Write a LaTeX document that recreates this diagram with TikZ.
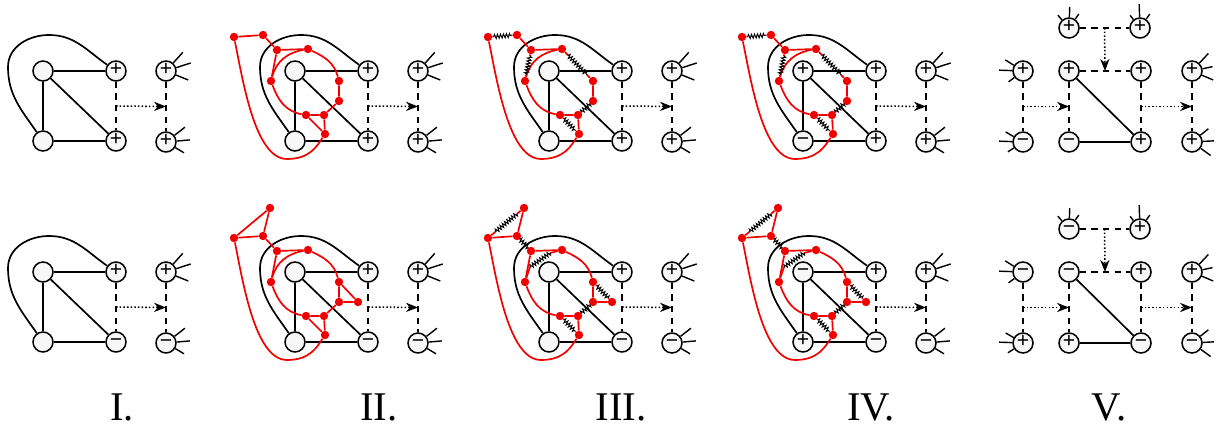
\documentclass[tikz,border=0pt]{standalone}
\usepackage{fontspec}
\newfontfamily\signfont{Liberation Sans}
\newfontfamily\numfont{Liberation Serif}
\usetikzlibrary{calc, arrows.meta, decorations.pathmorphing}
\definecolor{fillGray}{gray}{0.97}
\definecolor{dimerRed}{rgb}{0.95,0,0}

\tikzset{
  vtx/.style={circle, draw, fill=fillGray, line width=1.1pt, minimum size=5mm, inner sep=0pt,
    font=\signfont\fontsize{15}{15}\selectfont, text height=0.68em, text depth=0pt},
  blk/.style={line width=1.2pt},
  dashedge/.style={line width=1.1pt, dash pattern=on 1.6mm off 1.3mm},
  dotarrow/.style={line width=1.1pt, dash pattern=on 1.1pt off 1.5pt, -{Stealth[length=3mm, width=2.3mm]}},
  whisker/.style={line width=1pt},
  rdot/.style={circle, fill=dimerRed, minimum size=2.1mm, inner sep=0pt},
  redge/.style={dimerRed, line width=1.2pt},
  zz/.style={line width=0.7pt, decorate, decoration={zigzag, amplitude=0.5mm, segment length=0.75mm}},
  numlabel/.style={font=\numfont\fontsize{29}{31}\selectfont, anchor=base, inner sep=0pt}
}

% short legs on the outer vertices
\newcommand{\whisk}[2]{%
  \foreach \ang/\len in {#2}{\draw[whisker] (#1.\ang) -- ($(#1)+(\ang:\len)$);}}

% matched red edge drawn as a zigzag
\newcommand{\dimer}[2]{%
  \draw[redge] (#1) -- ($(#1)!0.2!(#2)$) (#2) -- ($(#2)!0.2!(#1)$);
  \draw[zz] ($(#1)!0.2!(#2)$) -- ($(#2)!0.2!(#1)$);}

% black graph of panels I--IV
\newcommand{\basegraph}[6]{%
  \node[vtx] (a) at (0,0) {#1};
  \node[vtx] (b) at (73,0) {#2};
  \node[vtx] (c) at (0,-70) {#3};
  \node[vtx] (d) at (73,-70) {#4};
  \node[vtx] (e) at (123,0) {#5};
  \node[vtx] (f) at (123,-71) {#6};
  \draw[blk] (a) -- (b) (a) -- (c) (a) -- (d) (c) -- (d);
  \draw[blk] (c) to[out=125,in=-90] (-35,4) to[out=90,in=180] (6,36) to[out=0,in=145] (b);
  \draw[dashedge] (b) -- (d) (e) -- (f);
  \coordinate (bd) at ($(b)!0.5!(d)$);
  \coordinate (ef) at ($(e)!0.5!(f)$);
  \draw[dotarrow] (bd) -- (ef);
  \whisk{e}{48/25, 18/26, -22/24}
  \whisk{f}{38/24, 5/24, -31/21}}

% red vertices
\newcommand{\redverts}{%
  \node[rdot] (p1) at (-61,34) {};
  \node[rdot] (p2) at (-32,36) {};
  \node[rdot] (p3) at (-18,21) {};
  \node[rdot] (p4) at (13,22) {};
  \node[rdot] (p5) at (-24,-10) {};
  \node[rdot] (p6) at (44,-10) {};
  \node[rdot] (p7) at (44,-30) {};
  \node[rdot] (p8) at (11,-44) {};
  \node[rdot] (p9) at (29,-44) {};
  \node[rdot] (p10) at (30,-63) {};}

\newcommand{\redloop}{%
  \draw[redge] (p5) to[out=-70,in=170] (p8);
  \draw[redge] (p1) .. controls (-52,-10) and (-40,-88) .. (-8,-88) .. controls (15,-88) and (22,-75) .. (p10);}

% red edges of the upper row that never change
\newcommand{\redtop}{%
  \redverts
  \draw[redge] (p2) -- (p3) -- (p4) (p6) -- (p7) (p8) -- (p9) -- (p10);
  \draw[redge] (p4) to[out=190,in=75] (p5);
  \redloop}

% red edges of the lower row that never change
\newcommand{\redbottom}{%
  \redverts
  \node[rdot] (q0) at (-25,64) {};
  \node[rdot] (p11) at (63,-30) {};
  \draw[redge] (q0) -- (p2) -- (p1) (p3) -- (p4) (p3) -- (p5) (p6) -- (p7) -- (p11) (p8) -- (p9) -- (p10);
  \draw[redge] (p4) to[out=-25,in=105] (p6);
  \redloop}

\begin{document}
\begin{tikzpicture}[x=0.25mm, y=0.25mm]
  \useasboundingbox (0,0) rectangle (1217,428);

  % ---------- upper row ----------
  \begin{scope}[shift={(43,357)}]
    \basegraph{}{+}{}{+}{+}{+}
  \end{scope}

  \begin{scope}[shift={(295,357)}]
    \basegraph{}{+}{}{+}{+}{+}
    \redtop
    \draw[redge] (p1) -- (p2) (p3) -- (p5) (p7) -- (p9) (p8) -- (p10);
    \draw[redge] (p4) to[out=-25,in=105] (p6);
  \end{scope}

  \begin{scope}[shift={(549,357)}]
    \basegraph{}{+}{}{+}{+}{+}
    \redtop
    \dimer{p1}{p2} \dimer{p3}{p5} \dimer{p4}{p6} \dimer{p7}{p9} \dimer{p8}{p10}
  \end{scope}

  \begin{scope}[shift={(803,357)}]
    \basegraph{+}{+}{−}{+}{+}{+}
    \redtop
    \dimer{p1}{p2} \dimer{p3}{p5} \dimer{p4}{p6} \dimer{p7}{p9} \dimer{p8}{p10}
  \end{scope}

  \begin{scope}[shift={(1069,357)}]
    \node[vtx] (t1) at (0,43) {+};
    \node[vtx] (t2) at (71,43) {+};
    \node[vtx] (m0) at (-46,0) {+};
    \node[vtx] (m1) at (0,0) {+};
    \node[vtx] (m2) at (72,0) {+};
    \node[vtx] (m3) at (123,0) {+};
    \node[vtx] (n0) at (-46,-71) {−};
    \node[vtx] (n1) at (0,-71) {−};
    \node[vtx] (n2) at (72,-71) {+};
    \node[vtx] (n3) at (123,-71) {+};
    \draw[blk] (m1) -- (n2) -- (n1);
    \draw[dashedge] (t1) -- (t2) (m1) -- (m2) (m0) -- (n0) (m1) -- (n1) (m2) -- (n2) (m3) -- (n3);
    \coordinate (tt) at ($(t1)!0.5!(t2)$);
    \coordinate (mm) at ($(m1)!0.5!(m2)$);
    \coordinate (h0) at ($(m0)!0.5!(n0)$);
    \coordinate (h1) at ($(m1)!0.5!(n1)$);
    \coordinate (h2) at ($(m2)!0.5!(n2)$);
    \coordinate (h3) at ($(m3)!0.5!(n3)$);
    \draw[dotarrow] (tt) -- (mm);
    \draw[dotarrow] (h0) -- (h1);
    \draw[dotarrow] (h2) -- (h3);
    \whisk{t1}{131/17, 88/21, 55/17}
    \whisk{t2}{128/16, 92/24, 55/17}
    \whisk{m0}{178/24, 148/21, 217/18}
    \whisk{n0}{178/24, 150/20, 213/18}
    \whisk{m3}{47/24, 12/21, -23/23}
    \whisk{n3}{39/21, 3/22, -36/23}
  \end{scope}

  % ---------- lower row ----------
  \begin{scope}[shift={(43,156)}]
    \basegraph{}{+}{}{−}{+}{−}
  \end{scope}

  \begin{scope}[shift={(295,156)}]
    \basegraph{}{+}{}{−}{+}{−}
    \redbottom
    \draw[redge] (q0) -- (p1) (p2) -- (p3) (p6) -- (p11) (p7) -- (p9) (p8) -- (p10);
    \draw[redge] (p4) to[out=190,in=75] (p5);
  \end{scope}

  \begin{scope}[shift={(549,156)}]
    \basegraph{}{+}{}{−}{+}{−}
    \redbottom
    \coordinate (k1) at (1,19);
    \coordinate (k2) at (-19,5);
    \draw[redge] (p4) -- (k1) (k2) -- (p5);
    \draw[zz] (k1) -- (k2);
    \dimer{q0}{p1} \dimer{p2}{p3} \dimer{p6}{p11} \dimer{p7}{p9} \dimer{p8}{p10}
  \end{scope}

  \begin{scope}[shift={(803,156)}]
    \basegraph{−}{+}{+}{−}{+}{−}
    \redbottom
    \coordinate (k1) at (1,19);
    \coordinate (k2) at (-19,5);
    \draw[redge] (p4) -- (k1) (k2) -- (p5);
    \draw[zz] (k1) -- (k2);
    \dimer{q0}{p1} \dimer{p2}{p3} \dimer{p6}{p11} \dimer{p7}{p9} \dimer{p8}{p10}
  \end{scope}

  \begin{scope}[shift={(1069,156)}]
    \node[vtx] (t1) at (0,43) {−};
    \node[vtx] (t2) at (71,43) {+};
    \node[vtx] (m0) at (-46,0) {−};
    \node[vtx] (m1) at (0,0) {−};
    \node[vtx] (m2) at (72,0) {+};
    \node[vtx] (m3) at (123,0) {+};
    \node[vtx] (n0) at (-46,-71) {+};
    \node[vtx] (n1) at (0,-71) {+};
    \node[vtx] (n2) at (72,-71) {−};
    \node[vtx] (n3) at (123,-71) {−};
    \draw[blk] (m1) -- (n2) -- (n1);
    \draw[dashedge] (t1) -- (t2) (m1) -- (m2) (m0) -- (n0) (m1) -- (n1) (m2) -- (n2) (m3) -- (n3);
    \coordinate (tt) at ($(t1)!0.5!(t2)$);
    \coordinate (mm) at ($(m1)!0.5!(m2)$);
    \coordinate (h0) at ($(m0)!0.5!(n0)$);
    \coordinate (h1) at ($(m1)!0.5!(n1)$);
    \coordinate (h2) at ($(m2)!0.5!(n2)$);
    \coordinate (h3) at ($(m3)!0.5!(n3)$);
    \draw[dotarrow] (tt) -- (mm);
    \draw[dotarrow] (h0) -- (h1);
    \draw[dotarrow] (h2) -- (h3);
    \whisk{t1}{131/17, 88/21, 55/17}
    \whisk{t2}{128/16, 92/24, 55/17}
    \whisk{m0}{178/24, 148/21, 217/18}
    \whisk{n0}{178/24, 150/20, 213/18}
    \whisk{m3}{47/24, 12/21, -23/23}
    \whisk{n3}{39/21, 3/22, -36/23}
  \end{scope}

  % panel numbers
  \node[numlabel] (l1) at (122,7) {I.};
  \node[numlabel] (l2) at (379,7) {II.};
  \node[numlabel] (l3) at (621,7) {III.};
  \node[numlabel] (l4) at (871,7) {IV.};
  \node[numlabel] (l5) at (1109,7) {V.};
\end{tikzpicture}
\end{document}
